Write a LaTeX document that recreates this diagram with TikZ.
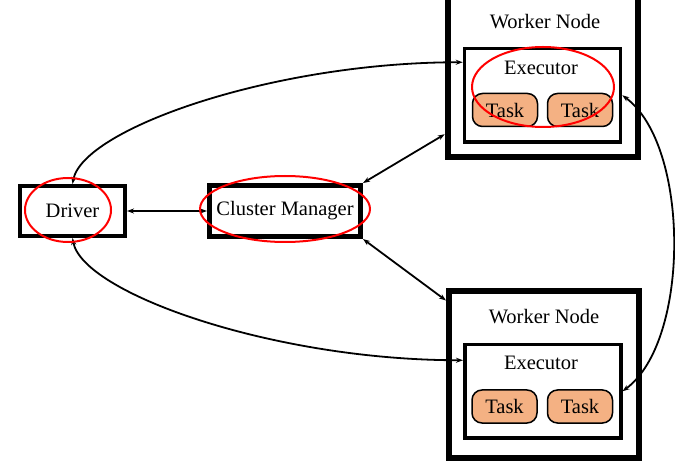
\documentclass[tikz,border=0pt]{standalone}
\usepackage{fontspec}
\setmainfont{Liberation Serif}
\usetikzlibrary{arrows.meta,calc}

\tikzset{
  box/.style={draw, line width=#1, inner sep=0pt},
  worker/.style={box=6pt, minimum width=190pt, minimum height=167pt},
  executor/.style={box=3.5pt, minimum width=156pt, minimum height=93.5pt},
  task/.style={draw, line width=1.5pt, fill=taskfill, rounded corners=10pt,
    minimum width=65pt, minimum height=33pt, inner sep=0pt},
  redring/.style={draw=red, line width=2pt},
  link/.style={line width=1.8pt, {Stealth[length=7pt,width=5pt]}-{Stealth[length=7pt,width=5pt]}},
}
\definecolor{taskfill}{RGB}{244,177,131}

\begin{document}
\begin{tikzpicture}[x=1pt, y=-1pt, font=\fontsize{20.5}{24}\selectfont]
    \useasboundingbox (0,0) rectangle (675,462);

      % Worker nodes
      \node[worker] (wtop) at (542.75, 73.75) {};
      \node (wtoptitle) at (545, 22) {Worker Node};
      \node[executor] (etop) at (542.5, 95.25) {};
      \node (etoptitle) at (541, 68) {Executor};
      \node[task] (ttopa) at (505, 110) {Task};
      \node[task] (ttopb) at (580, 110) {Task};

      \node[worker, minimum height=166.5pt] (wbot) at (544, 374.75) {};
      \node (wbottitle) at (544, 317) {Worker Node};
      \node[executor] (ebot) at (542.75, 391.25) {};
      \node (ebottitle) at (541, 363) {Executor};
      \node[task] (tbota) at (504.5, 406.5) {Task};
      \node[task] (tbotb) at (580, 406.5) {Task};

      % Driver and cluster manager
      \node[box=4pt, minimum width=105pt, minimum height=50pt] (driver) at (72.5, 211) {Driver};
      \node[box=5pt, minimum width=151pt, minimum height=51pt] (cluster) at (285, 211) {Cluster Manager};

      % Links
      \draw[link] (driver.east) -- (cluster.west);
      \draw[link] (cluster.north east) -- ([yshift=26pt]wtop.south west);
      \draw[link] (cluster.south east) -- ([yshift=-12pt]wbot.north west);
      \draw[link] (driver.north) .. controls +(10,-55) and +(-190,0) .. ([yshift=33pt]etop.west);
      \draw[link] (driver.south) .. controls +(10,55) and +(-190,0) .. ([yshift=31pt]ebot.west);
      \draw[link] (etop.east) .. controls +(68,50) and +(68,-50) .. (ebot.east);

      % Red rings
      \draw[redring] (68, 210) ellipse [x radius=43, y radius=32];
      \draw[redring] (285, 209) ellipse [x radius=85, y radius=33];
      \draw[redring] (543, 87) ellipse [x radius=71, y radius=40];
  \end{tikzpicture}
\end{document}
